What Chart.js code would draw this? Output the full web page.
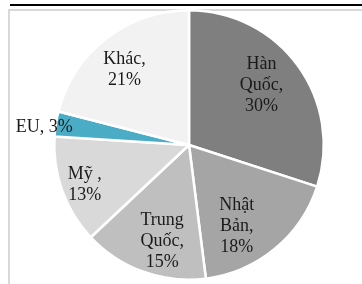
<!DOCTYPE html>
<html>
<head>
<meta charset="utf-8">
<script src="https://cdn.jsdelivr.net/npm/chart.js@4.4.1/dist/chart.umd.min.js"></script>
<style>
  html, body { margin: 0; padding: 0; background: #fff; }
  #wrap { position: relative; width: 362px; height: 284px; overflow: hidden; }
  #topline { position: absolute; left: 10px; top: 4px; width: 352px; height: 2px; background: #000; }
  #frame { position: absolute; left: 8px; top: 9px; width: 360px; height: 290px;
           border-left: 2px solid #d9d9d9; border-top: 2px solid #d9d9d9; box-sizing: border-box; }
  #pieChart { position: absolute; left: 0; top: 0; }
</style>
</head>
<body>
<div id="wrap">
  <div id="topline"></div>
  <div id="frame"></div>
  <canvas id="pieChart" width="362" height="284"></canvas>
</div>
<script>
// Thị trường xuất khẩu (%)
const markets = ['Hàn Quốc', 'Nhật Bản', 'Trung Quốc', 'Mỹ', 'EU', 'Khác'];
const shares = [30, 18, 15, 13, 3, 21];
const sliceColors = ['#7f7f7f', '#a5a5a5', '#bfbfbf', '#d9d9d9', '#4bacc6', '#f2f2f2'];
// label text lines for each slice
const labelLines = [
  ['Hàn', 'Quốc,', '30%'],
  ['Nhật', 'Bản,', '18%'],
  ['Trung', 'Quốc,', '15%'],
  ['Mỹ ,', '13%'],
  ['EU, 3%'],
  ['Khác,', '21%']
];

// draws the data labels at each arc's middle angle
const sliceLabels = {
  id: 'sliceLabels',
  afterDatasetsDraw(chart, args, opts) {
    const c = chart.ctx;
    const arcs = chart.getDatasetMeta(0).data;
    c.save();
    c.font = '18px "Liberation Serif", "Times New Roman", serif';
    c.fillStyle = '#1a1a1a';
    c.textAlign = 'center';
    c.textBaseline = 'middle';
    arcs.forEach((arc, i) => {
      const mid = (arc.startAngle + arc.endAngle) / 2;
      const r = arc.outerRadius * opts.dist[i];
      const off = opts.shift[i];
      const x = arc.x + Math.cos(mid) * r + off[0];
      const y = arc.y + Math.sin(mid) * r + off[1];
      const lines = labelLines[i];
      const lh = 21;
      const y0 = y - (lines.length - 1) * lh / 2;
      lines.forEach((t, k) => c.fillText(t, x, y0 + k * lh));
    });
    c.restore();
  }
};

const ctx = document.getElementById('pieChart').getContext('2d');
new Chart(ctx, {
  type: 'pie',
  data: {
    labels: markets,
    datasets: [{
      data: shares,
      backgroundColor: sliceColors,
      borderColor: '#ffffff',
      borderWidth: 2.5
    }]
  },
  options: {
    responsive: false,
    animation: false,
    layout: { padding: { left: 53, right: 37, top: 9, bottom: 3 } },
    plugins: {
      legend: { display: false },
      tooltip: { enabled: false },
      sliceLabels: {
        dist: [0.72, 0.72, 0.72, 0.72, 1.08, 0.72],
        shift: [[-6, -3], [-14, 7], [6, 5], [-13, 7], [-1, 5], [-5, 1]]
      }
    }
  },
  plugins: [sliceLabels]
});
</script>
</body>
</html>
